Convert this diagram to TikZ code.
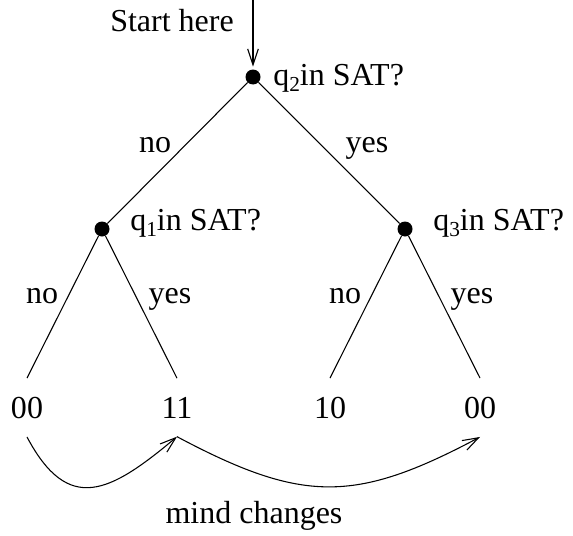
\documentclass[tikz,border=0pt]{standalone}
\usepackage{fontspec}
\setmainfont{Liberation Serif}
\usetikzlibrary{arrows.meta}
\tikzset{
  qdot/.style={circle,fill=black,inner sep=0pt,minimum size=11.25pt},
  qtxt/.style={font=\fontsize{24}{28}\selectfont,inner sep=0pt,anchor=base},
  qlab/.style={qtxt,anchor=base west},
  qleaf/.style={qtxt,outer ysep=14pt},
  qedge/.style={line width=0.8pt},
  qarr/.style={line width=0.8pt,-{Straight Barb[length=12pt,width=8pt]}},
}
\newcommand{\qask}[3]{\node[qlab] at (#1,#2)
  {q\raisebox{-5pt}{\fontsize{16}{18}\selectfont #3}in SAT?};}

\begin{document}
\begin{tikzpicture}[x=0.75pt,y=0.75pt]
  \useasboundingbox (0,0) rectangle (573,-535);

  % decision points
  \node[qdot] (nq2) at (253,-77) {};
  \node[qdot] (nq1) at (102,-229) {};
  \node[qdot] (nq3) at (405,-229) {};
  \qask{273}{-85}{2}
  \qask{130}{-230}{1}
  \qask{433}{-230}{3}

  % start
  \coordinate (st) at (253,0);
  \node[qtxt] (sth) at (172,-32) {Start here};
  \draw[qarr,shorten >=2pt] (st) -- (nq2);

  % leaves
  \node[qleaf] (l00a) at (27,-418) {00};
  \node[qleaf] (l11) at (177,-418) {11};
  \node[qleaf] (l10) at (330,-418) {10};
  \node[qleaf] (l00b) at (480,-418) {00};

  % branches
  \draw[qedge] (nq2) -- (nq1);
  \draw[qedge] (nq2) -- (nq3);
  \draw[qedge] (nq1) -- (l00a.north);
  \draw[qedge] (nq1) -- (l11.north);
  \draw[qedge] (nq3) -- (l10.north);
  \draw[qedge] (nq3) -- (l00b.north);
  \node[qtxt] (e1) at (155,-152) {no};
  \node[qtxt] (e2) at (367,-152) {yes};
  \node[qtxt] (e3) at (42,-303) {no};
  \node[qtxt] (e4) at (170,-303) {yes};
  \node[qtxt] (e5) at (345,-303) {no};
  \node[qtxt] (e6) at (472,-303) {yes};

  % mind changes
  \draw[qarr] (l00a.south) to[out=-62,in=-140,looseness=1.5] (l11.south);
  \draw[qarr] (l11.south) to[out=-28,in=-152,looseness=1.2] (l00b.south);
  \node[qtxt] (mc) at (254,-523) {mind changes};
\end{tikzpicture}
\end{document}
